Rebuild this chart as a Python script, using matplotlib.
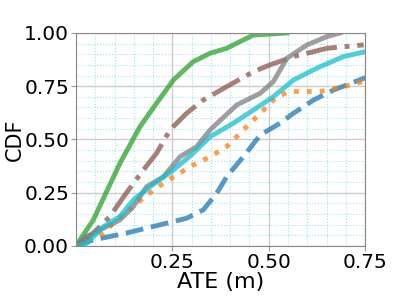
import numpy as np
import matplotlib
matplotlib.use("Agg")
import matplotlib.pyplot as plt

# CDF curves (ATE in m, CDF)
blue_x = [0, 0.045, 0.13, 0.218, 0.287, 0.33, 0.365, 0.391, 0.434, 0.478, 0.529, 0.564, 0.616, 0.668, 0.746, 0.78]
blue_y = [0, 0.028, 0.06, 0.099, 0.13, 0.169, 0.247, 0.325, 0.419, 0.521, 0.576, 0.623, 0.685, 0.732, 0.787, 0.81]

orange_x = [0, 0.071, 0.106, 0.158, 0.201, 0.253, 0.304, 0.348, 0.391, 0.434, 0.478, 0.521, 0.555, 0.633, 0.694, 0.746, 0.78]
orange_y = [0, 0.06, 0.122, 0.2, 0.263, 0.325, 0.38, 0.419, 0.466, 0.545, 0.623, 0.701, 0.725, 0.725, 0.748, 0.772, 0.78]

green_x = [0, 0.045, 0.114, 0.166, 0.209, 0.253, 0.304, 0.348, 0.391, 0.426, 0.46, 0.547]
green_y = [0, 0.122, 0.388, 0.56, 0.67, 0.78, 0.865, 0.905, 0.928, 0.96, 0.99, 1.0]

brown_x = [0, 0.045, 0.088, 0.13, 0.175, 0.209, 0.244, 0.287, 0.33, 0.391, 0.46, 0.503, 0.564, 0.651, 0.746]
brown_y = [0, 0.06, 0.138, 0.247, 0.357, 0.435, 0.545, 0.623, 0.685, 0.748, 0.818, 0.85, 0.889, 0.928, 0.944]

gray_x = [0, 0.028, 0.062, 0.114, 0.149, 0.183, 0.227, 0.27, 0.313, 0.348, 0.417, 0.478, 0.512, 0.547, 0.599, 0.651, 0.685]
gray_y = [0, 0.044, 0.075, 0.122, 0.185, 0.278, 0.325, 0.419, 0.466, 0.545, 0.662, 0.717, 0.772, 0.881, 0.944, 0.983, 1.0]

cyan_x = [0, 0.028, 0.071, 0.114, 0.149, 0.192, 0.253, 0.304, 0.348, 0.408, 0.46, 0.512, 0.564, 0.633, 0.694, 0.75]
cyan_y = [0, 0.013, 0.09, 0.138, 0.216, 0.278, 0.357, 0.435, 0.513, 0.576, 0.638, 0.701, 0.779, 0.842, 0.889, 0.912]

fig = plt.figure(figsize=(4.15, 2.97), dpi=100)
ax = fig.add_axes([0.183, 0.172, 0.697, 0.717])

lw = 3.5
ax.plot(blue_x, blue_y, color="tab:blue", ls="--", lw=lw, alpha=0.75)
ax.plot(orange_x, orange_y, color="tab:orange", ls=":", lw=lw, alpha=0.75)
ax.plot(green_x, green_y, color="tab:green", ls="-", lw=lw, alpha=0.75)
ax.plot(brown_x, brown_y, color="tab:brown", ls="-.", lw=lw, alpha=0.75)
ax.plot(gray_x, gray_y, color="tab:gray", ls="-", lw=lw, alpha=0.75)
ax.plot(cyan_x, cyan_y, color="tab:cyan", ls="-", lw=lw, alpha=0.75)

ax.set_xlim(0, 0.75)
ax.set_ylim(0, 1.0)
ax.set_xticks([0.25, 0.5, 0.75])
ax.set_yticks([0, 0.25, 0.5, 0.75, 1.0])
ax.set_xticks(np.arange(0, 0.751, 0.05), minor=True)
ax.set_yticks(np.arange(0, 1.001, 0.05), minor=True)
ax.tick_params(which="minor", length=0)
ax.tick_params(which="major", labelsize=14.5, length=3.5, color="#999999", pad=1.5)
ax.grid(which="major", color="#cccccc", lw=1)
ax.grid(which="minor", color="#9fe3f0", ls=":", lw=0.8)
ax.set_axisbelow(True)
for s in ax.spines.values():
    s.set_color("#888888")

ax.set_xlabel("ATE (m)", fontsize=16, labelpad=0)
ax.set_ylabel("CDF", fontsize=15)
ax.yaxis.set_label_coords(-0.178, 0.5)

fig.savefig("out.png", dpi=100)
